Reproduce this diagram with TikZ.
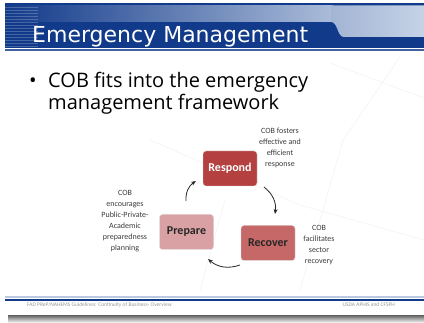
\documentclass[tikz,border=0pt]{standalone}
\usepackage{fontspec}
\setmainfont{Carlito}
\newfontfamily\titlefont{DejaVu Sans}
\newfontfamily\bulletfont{Open Sans}
\usetikzlibrary{arrows.meta,positioning}
\definecolor{bannerDark}{HTML}{123A8A}
\definecolor{bannerLight}{HTML}{C6D3E7}
\definecolor{footLight}{HTML}{B9C9E2}
\definecolor{respondRed}{HTML}{B4403F}
\definecolor{recoverRed}{HTML}{C66868}
\definecolor{preparePink}{HTML}{D9A1A3}
\definecolor{noteGray}{HTML}{3C3C3C}
\tikzset{
myPhase/.style={
	rectangle, rounded corners=3pt, draw=white!85!black, line width=0.4pt,
	minimum width=54pt, minimum height=35pt, inner sep=0pt,
	font=\fontsize{12}{12}\selectfont\bfseries
}
, myNote/.style={
	align=center, text=noteGray, inner sep=0pt,
	font=\fontsize{8}{11}\selectfont
}
, myLine/.style={anchor=base west, inner sep=0pt, font=\bulletfont\fontsize{20}{20}\selectfont}
, myFoot/.style={text=black!40, inner sep=0pt, font=\fontsize{5.5}{5.5}\selectfont}
% cycle arrows
, myCycle/.style={-{Stealth[length=5pt,width=4pt]},color=black!85,line width=0.8pt,bend left=30}
, myDecor/.style={color=black!5,line width=0.5pt}
}

\begin{document}
\begin{tikzpicture}[x=1pt,y=-1pt]
	% slide
	\fill[white] (0,0) rectangle (424,323);
	\useasboundingbox (0,0) rectangle (424,323);
	% faint template lines
	\draw[myDecor] (330,63) -- (424,98);
	\draw[myDecor] (400,57) -- (343,140) -- (300,290);
	\draw[myDecor] (150,140) -- (300,205) -- (424,240);
	\draw[myDecor] (200,290) -- (225,200);
	% banner
	\fill[bannerDark] (5,3.5) rectangle (424,48);
	\shade[left color=bannerDark, right color=bannerLight!85!bannerDark] (5,5.5) rectangle (333,22);
	\shade[left color=bannerLight!80!bannerDark, right color=bannerLight]
		(331,5.5) -- (424,5.5) -- (424,37) -- (344,37)
		.. controls (337,37) and (338,22) .. (331,22) -- cycle;
	\foreach \y in {7,10,...,46}
		\draw[white, opacity=0.22, line width=0.6pt] (5,\y) -- (38,\y);
	\fill[white] (5,48) rectangle (424,49.5);
	\fill[bannerDark!80] (5,49.5) rectangle (424,51);
	\node[anchor=base west, text=white, inner sep=0pt,
		font=\titlefont\fontsize{22}{22}\selectfont] (Title) at (32,43) {Emergency Management};
	% bullet
	\node[myLine] (Bullet) at (29,88) {•};
	\node[myLine] (PointA) at (48,88) {COB fits into the emergency};
	\node[myLine] (PointB) at (48,110) {management framework};
	% phases
	\node[myPhase, fill=respondRed, text=white] (Respond) at (230,168.5) {Respond};
	\node[myPhase, fill=preparePink, text=black!85] (Prepare) at (186.5,232) {Prepare};
	\node[myPhase, fill=recoverRed, text=black!85] (Recover) at (268,243) {Recover};
	% notes
	\node[myNote] (RespondNote) at (280,148) {COB fosters\\effective and\\efficient\\response};
	\node[myNote] (PrepareNote) at (125,221) {COB\\encourages\\Public-Private-\\Academic\\preparedness\\planning};
	\node[myNote] (RecoverNote) at (319,245.5) {COB\\facilitates\\sector\\recovery};
	% arrow ends
	\coordinate (PrepareOut) at (186,201);
	\coordinate (RespondIn) at (196,181);
	\coordinate (RespondOut) at (264,187);
	\coordinate (RecoverIn) at (275,214);
	\coordinate (RecoverOut) at (240,265);
	\coordinate (PrepareIn) at (208,259);
	\draw[myCycle] (PrepareOut) to (RespondIn);
	\draw[myCycle] (RespondOut) to (RecoverIn);
	\draw[myCycle] (RecoverOut) to (PrepareIn);
	% footer
	\fill[footLight] (5,296.5) rectangle (424,298.5);
	\fill[bannerDark] (5,299) rectangle (424,301);
	\node[myFoot, anchor=base west] (FootLeft) at (27,307)
		{FAD PReP/NAHEMS Guidelines: Continuity of Business- Overview};
	\node[myFoot, anchor=base east] (FootRight) at (395,307)
		{USDA APHIS and CFSPH};
	\shade[top color=black!55, bottom color=white] (8,316) rectangle (424,323);
\end{tikzpicture}
\end{document}
